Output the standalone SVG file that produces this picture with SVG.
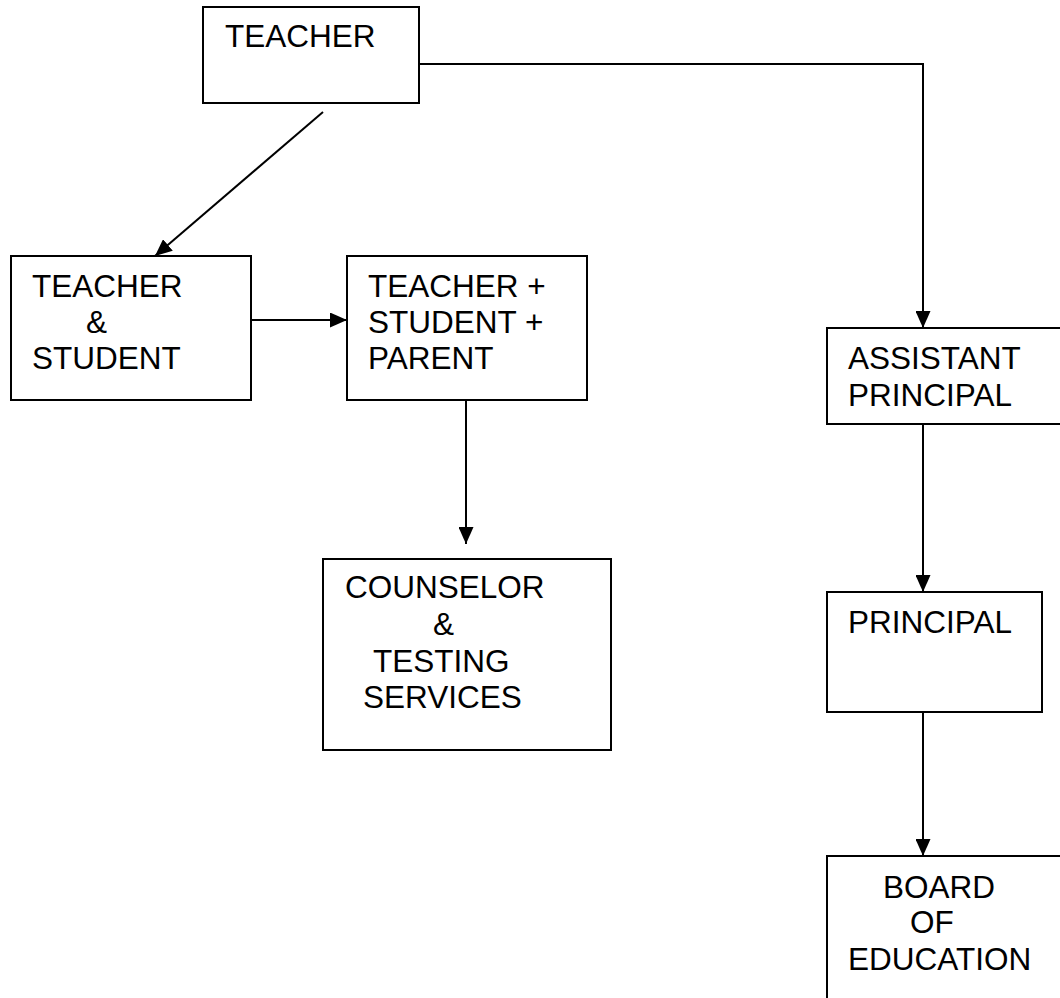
<svg xmlns="http://www.w3.org/2000/svg" width="1060" height="998" viewBox="0 0 1060 998">
<style>
.box{fill:#fff;stroke:#000;stroke-width:2}
.lbl{font-family:"Liberation Sans",Arial,sans-serif;font-size:31.5px;fill:#000}
.con{fill:none;stroke:#000;stroke-width:2}
</style>
<defs>
<marker id="ah" markerUnits="userSpaceOnUse" markerWidth="17" markerHeight="15" refX="17" refY="7.5" orient="auto">
<path d="M0,0 L17,7.5 L0,15 z" fill="#000"/>
</marker>
</defs>
<rect width="1060" height="998" fill="#fff"/>
<g id="n-teacher">
<rect class="box" x="203" y="7" width="216" height="96"/>
<text class="lbl" x="225" y="47">TEACHER</text>
</g>
<g id="n-teacher-student">
<rect class="box" x="11" y="256" width="240" height="144"/>
<text class="lbl" x="32" y="297">TEACHER</text>
<text class="lbl" x="86" y="333">&amp;</text>
<text class="lbl" x="32" y="369">STUDENT</text>
</g>
<g id="n-tsp">
<rect class="box" x="347" y="256" width="240" height="144"/>
<text class="lbl" x="368" y="297">TEACHER +</text>
<text class="lbl" x="368" y="333">STUDENT +</text>
<text class="lbl" x="368" y="369">PARENT</text>
</g>
<g id="n-counselor">
<rect class="box" x="323" y="559" width="288" height="191"/>
<text class="lbl" x="345" y="598">COUNSELOR</text>
<text class="lbl" x="433" y="635">&amp;</text>
<text class="lbl" x="373" y="672">TESTING</text>
<text class="lbl" x="363" y="708">SERVICES</text>
</g>
<g id="n-assistant">
<rect class="box" x="827" y="328" width="236" height="96"/>
<text class="lbl" x="848" y="369">ASSISTANT</text>
<text class="lbl" x="848" y="406">PRINCIPAL</text>
</g>
<g id="n-principal">
<rect class="box" x="827" y="592" width="215" height="120"/>
<text class="lbl" x="848" y="633">PRINCIPAL</text>
</g>
<g id="n-board">
<rect class="box" x="827" y="856" width="236" height="150"/>
<text class="lbl" x="883" y="898">BOARD</text>
<text class="lbl" x="910" y="933">OF</text>
<text class="lbl" x="848" y="970">EDUCATION</text>
</g>
<g id="connectors">
<line class="con" x1="323" y1="112" x2="155" y2="256" marker-end="url(#ah)"/>
<line class="con" x1="251" y1="320" x2="347" y2="320" marker-end="url(#ah)"/>
<line class="con" x1="466" y1="400" x2="466" y2="544" marker-end="url(#ah)"/>
<polyline class="con" points="419,64 923,64 923,328" marker-end="url(#ah)"/>
<line class="con" x1="923" y1="424" x2="923" y2="592" marker-end="url(#ah)"/>
<line class="con" x1="923" y1="712" x2="923" y2="856" marker-end="url(#ah)"/>
</g>
</svg>
